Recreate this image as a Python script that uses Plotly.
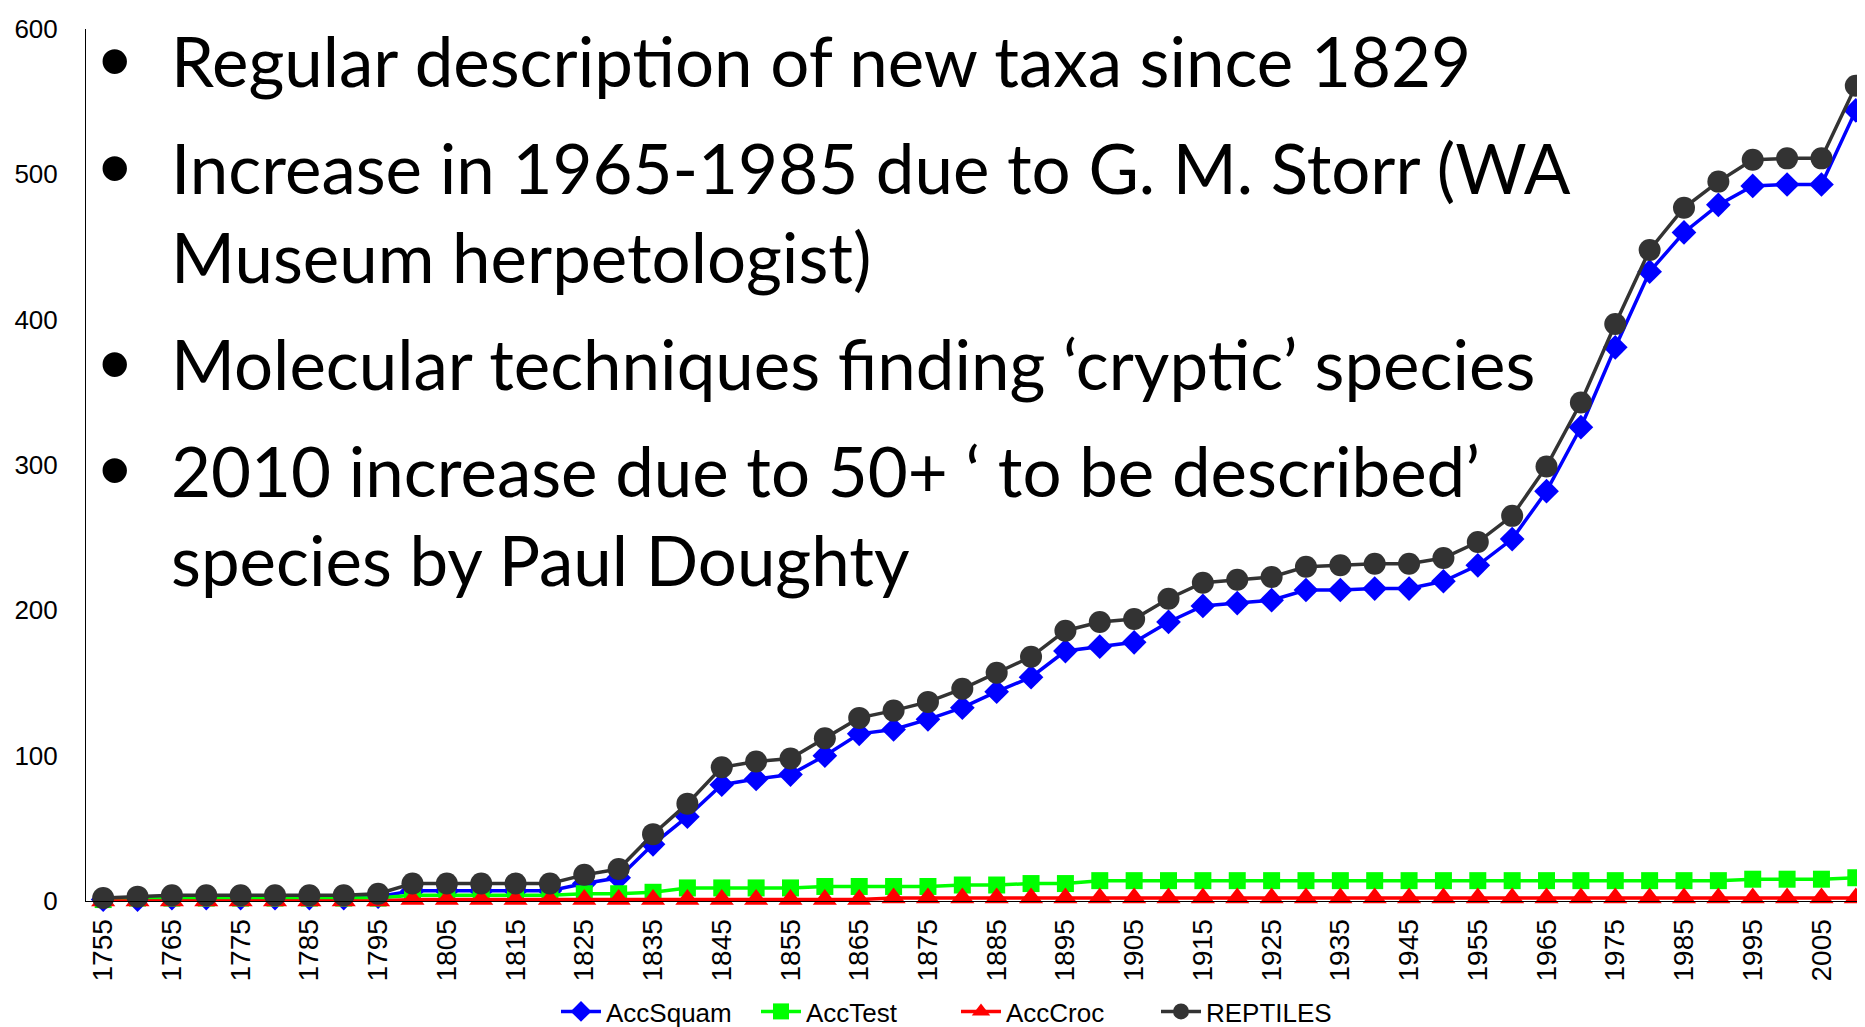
import plotly.graph_objects as go

years = [1755, 1760, 1765, 1770, 1775, 1780, 1785, 1790, 1795, 1800,
         1805, 1810, 1815, 1820, 1825, 1830, 1835, 1840, 1845, 1850,
         1855, 1860, 1865, 1870, 1875, 1880, 1885, 1890, 1895, 1900,
         1905, 1910, 1915, 1920, 1925, 1930, 1935, 1940, 1945, 1950,
         1955, 1960, 1965, 1970, 1975, 1980, 1985, 1990, 1995, 2000,
         2005, 2010]

acc_squam = [1, 1, 2, 2, 2, 2, 2, 2, 3, 7,
             7, 7, 7, 7, 12, 16, 39, 58, 80, 84,
             87, 100, 115, 118, 125, 133, 144, 154, 172, 175,
             178, 192, 203, 205, 207, 214, 214, 215, 215, 220,
             231, 249, 282, 326, 381, 433, 460, 479, 492, 493,
             493, 544]

acc_test = [1, 2, 2, 2, 2, 2, 2, 2, 2, 4,
            4, 4, 4, 4, 5, 5, 6, 9, 9, 9,
            9, 10, 10, 10, 10, 11, 11, 12, 12, 14,
            14, 14, 14, 14, 14, 14, 14, 14, 14, 14,
            14, 14, 14, 14, 14, 14, 14, 14, 15, 15,
            15, 16]

acc_croc = [0, 0, 0, 0, 0, 0, 0, 0, 0, 1,
            1, 1, 1, 1, 1, 1, 1, 1, 1, 1,
            1, 1, 1, 2, 2, 2, 2, 2, 2, 2,
            2, 2, 2, 2, 2, 2, 2, 2, 2, 2,
            2, 2, 2, 2, 2, 2, 2, 2, 2, 2,
            2, 2]

reptiles = [2, 3, 4, 4, 4, 4, 4, 4, 5, 12,
            12, 12, 12, 12, 18, 22, 46, 67, 92, 96,
            98, 112, 126, 131, 137, 146, 157, 168, 186, 192,
            194, 208, 219, 221, 223, 230, 231, 232, 232, 236,
            247, 265, 299, 343, 397, 448, 477, 495, 510, 511,
            511, 561]

tick_years = [1755, 1765, 1775, 1785, 1795, 1805, 1815, 1825, 1835, 1845,
              1855, 1865, 1875, 1885, 1895, 1905, 1915, 1925, 1935, 1945,
              1955, 1965, 1975, 1985, 1995, 2005]
y_ticks = [0, 100, 200, 300, 400, 500, 600]

bullet_lines = [
    ["Regular description of new taxa since 1829"],
    ["Increase in 1965-1985 due to G. M. Storr (WA", "Museum herpetologist)"],
    ["Molecular techniques finding \u2018cryptic\u2019 species"],
    ["2010 increase due to 50+ \u2018 to be described\u2019", "species by Paul Doughty"],
]

W, H = 1865, 1027
ML, MR, MT, MB = 78, 0, 21, 125
PW, PH = W - ML - MR, H - MT - MB

def px_x(x):
    return (x - ML) / PW

def px_y(y):
    return (H - MB - y) / PH

fig = go.Figure()
series = [
    ("AccSquam", acc_squam, "#0000FF", "diamond", 19),
    ("AccTest", acc_test, "#00FF00", "square", 17),
    ("AccCroc", acc_croc, "#FF0000", "triangle-up", 21),
    ("REPTILES", reptiles, "#333333", "circle", 22),
]
for name, vals, col, sym, sz in series:
    fig.add_trace(go.Scatter(
        x=years, y=vals, name=name, mode="lines+markers",
        line=dict(color=col, width=3.5), cliponaxis=False,
        marker=dict(symbol=sym, size=sz, color=col, line=dict(width=0)),
    ))

annotations = []
text_font = dict(family="Lato, Carlito, Calibri, sans-serif", size=69, color="black")
bullet_font = dict(family="Liberation Sans, Arial, sans-serif", size=90, color="black")
baseline = 86
for i, group in enumerate(bullet_lines):
    if i > 0:
        baseline += 108
    annotations.append(dict(
        x=px_x(107), y=px_y(baseline - 33), xref="paper", yref="paper",
        text="\u2022", showarrow=False, xanchor="center", yanchor="middle",
        font=bullet_font))
    for j, line in enumerate(group):
        if j > 0:
            baseline += 90
        annotations.append(dict(
            x=px_x(161), y=px_y(baseline - 33), xref="paper", yref="paper",
            text=line, showarrow=False, xanchor="left", yanchor="middle",
            font=text_font))

fig.update_layout(
    width=W, height=H,
    margin=dict(l=ML, r=MR, t=MT, b=MB, pad=0),
    paper_bgcolor="white", plot_bgcolor="white",
    font=dict(family="Liberation Sans, Arial, sans-serif", size=25, color="black"),
    xaxis=dict(
        range=[1752.5, 2012.5], tickmode="array", tickvals=tick_years,
        ticktext=[str(t) for t in tick_years], tickangle=-90,
        showgrid=False, zeroline=False, showline=True, linecolor="black",
        linewidth=1, ticks="", ticklen=0, tickfont=dict(size=28),
        ticklabelstandoff=6,
    ),
    yaxis=dict(
        range=[0, 600], tickmode="array", tickvals=y_ticks,
        showgrid=False, zeroline=False, showline=True, linecolor="black",
        linewidth=1, ticks="", tickfont=dict(size=26), ticklabelstandoff=22,
    ),
    legend=dict(
        orientation="h", x=px_x(948), y=px_y(1014), xanchor="center",
        yanchor="middle", font=dict(size=26), bgcolor="rgba(0,0,0,0)",
        itemwidth=40, entrywidth=145,
    ),
    annotations=annotations,
)

fig.write_html("out.html")
